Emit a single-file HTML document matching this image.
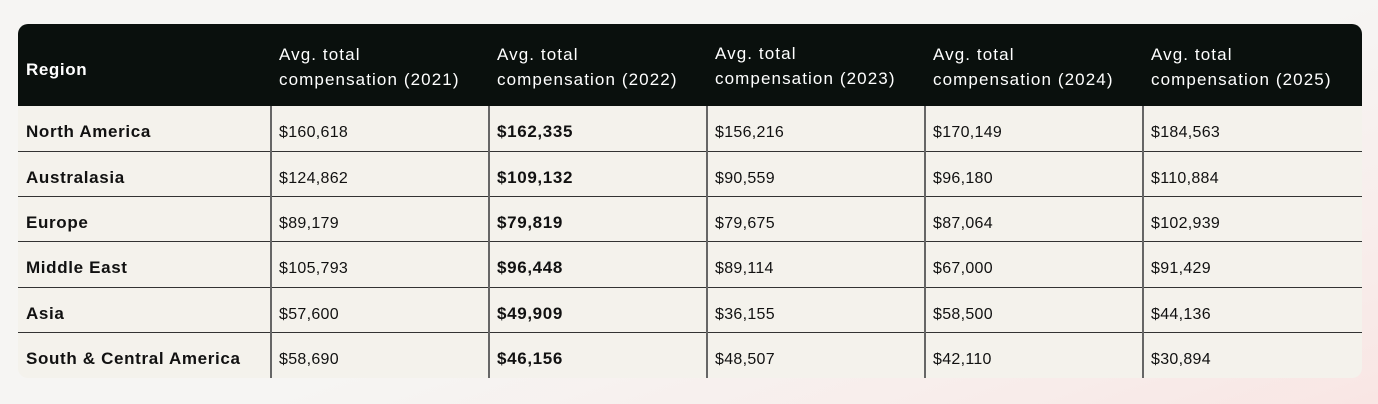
<!DOCTYPE html>
<html><head><style>
html,body{margin:0;padding:0;}
body{width:1378px;height:404px;overflow:hidden;position:relative;font-family:"Liberation Sans",sans-serif;
background:linear-gradient(160deg,#f6f5f3 0%,#f6f5f3 55%,#f8ecea 85%,#f9e6e4 100%);}
.t{position:absolute;left:18px;top:24px;width:1344px;height:354px;background:#f4f2ec;border-radius:10px;overflow:hidden;}
.hd{position:absolute;left:0;top:0;width:1344px;height:82px;background:#0a100d;}
.c{position:absolute;font-size:16px;color:#111;white-space:nowrap;letter-spacing:0.3px;top:2px;}
.h{color:#fff;line-height:25px;font-size:17px;letter-spacing:1.1px;}
.b{font-weight:bold;font-size:17px;letter-spacing:0.65px;top:0;}
.hl{position:absolute;left:0;width:1344px;height:1px;background:#333;}
.vl{position:absolute;top:82px;width:1.5px;height:272px;background:#666;}
</style></head><body>
<div class="t">
<div class="hd"></div>
<div class="c h b" style="left:8px;top:33px;letter-spacing:0.6px">Region</div>
<div class="c h" style="left:261px;top:18px">Avg. total<br>compensation (2021)</div>
<div class="c h" style="left:479px;top:18px">Avg. total<br>compensation (2022)</div>
<div class="c h" style="left:697px;top:17px">Avg. total<br>compensation (2023)</div>
<div class="c h" style="left:915px;top:18px">Avg. total<br>compensation (2024)</div>
<div class="c h" style="left:1133px;top:18px">Avg. total<br>compensation (2025)</div>
<div class="hl" style="top:127px"></div>
<div class="hl" style="top:172px"></div>
<div class="hl" style="top:217px"></div>
<div class="hl" style="top:263px"></div>
<div class="hl" style="top:308px"></div>
<div class="vl" style="left:252px"></div>
<div class="vl" style="left:470px"></div>
<div class="vl" style="left:688px"></div>
<div class="vl" style="left:906px"></div>
<div class="vl" style="left:1124px"></div>
<div style="position:absolute;left:0;top:98px;width:1344px">
<div class="c b" style="left:8px">North America</div><div class="c" style="left:261px">$160,618</div><div class="c b" style="left:479px">$162,335</div><div class="c" style="left:697px">$156,216</div><div class="c" style="left:915px">$170,149</div><div class="c" style="left:1133px">$184,563</div></div>
<div style="position:absolute;left:0;top:144px;width:1344px">
<div class="c b" style="left:8px">Australasia</div><div class="c" style="left:261px">$124,862</div><div class="c b" style="left:479px">$109,132</div><div class="c" style="left:697px">$90,559</div><div class="c" style="left:915px">$96,180</div><div class="c" style="left:1133px">$110,884</div></div>
<div style="position:absolute;left:0;top:189px;width:1344px">
<div class="c b" style="left:8px">Europe</div><div class="c" style="left:261px">$89,179</div><div class="c b" style="left:479px">$79,819</div><div class="c" style="left:697px">$79,675</div><div class="c" style="left:915px">$87,064</div><div class="c" style="left:1133px">$102,939</div></div>
<div style="position:absolute;left:0;top:234px;width:1344px">
<div class="c b" style="left:8px">Middle East</div><div class="c" style="left:261px">$105,793</div><div class="c b" style="left:479px">$96,448</div><div class="c" style="left:697px">$89,114</div><div class="c" style="left:915px">$67,000</div><div class="c" style="left:1133px">$91,429</div></div>
<div style="position:absolute;left:0;top:280px;width:1344px">
<div class="c b" style="left:8px">Asia</div><div class="c" style="left:261px">$57,600</div><div class="c b" style="left:479px">$49,909</div><div class="c" style="left:697px">$36,155</div><div class="c" style="left:915px">$58,500</div><div class="c" style="left:1133px">$44,136</div></div>
<div style="position:absolute;left:0;top:325px;width:1344px">
<div class="c b" style="left:8px">South &amp; Central America</div><div class="c" style="left:261px">$58,690</div><div class="c b" style="left:479px">$46,156</div><div class="c" style="left:697px">$48,507</div><div class="c" style="left:915px">$42,110</div><div class="c" style="left:1133px">$30,894</div></div>
</div>
</body></html>
